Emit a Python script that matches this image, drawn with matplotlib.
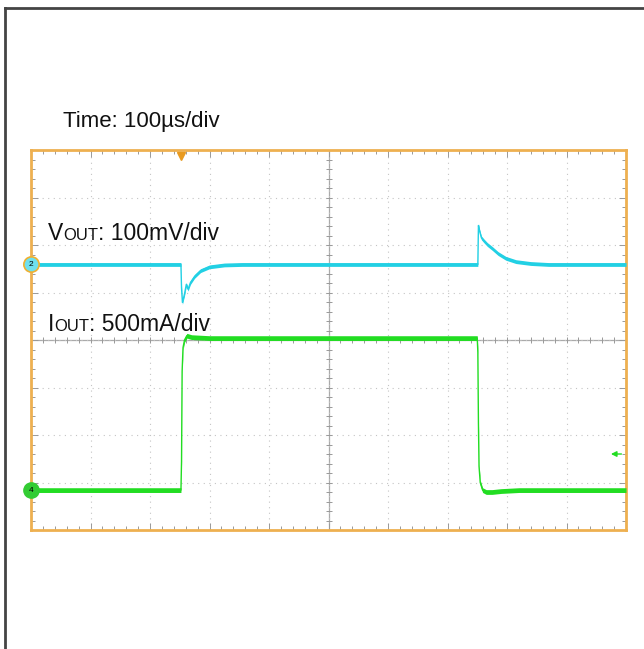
import matplotlib
matplotlib.use("Agg")
import matplotlib.pyplot as plt
import numpy as np
from matplotlib.lines import Line2D

plt.rcParams["font.family"] = ["Liberation Sans", "DejaVu Sans"]

# scope settings
TIME_US_PER_DIV = 100
VOUT_MV_PER_DIV = 100
IOUT_MA_PER_DIV = 500
VOUT_OFFSET_DIV = 1.59
IOUT_OFFSET_DIV = -3.16
TRIGGER_TIME_US = 252
TRIGGER_LEVEL_MA = 380

# VOUT trace (deviation from nominal, mV)
VOUT_T_US = [0, 252, 253, 254.5, 258, 261, 264, 268, 275, 285, 300, 325, 355,
             751, 752, 754, 757, 761, 767, 775, 785, 798, 815, 840, 870, 1000]
VOUT_MV = [0, 0, -50, -80, -62, -42, -52, -38, -25, -13, -5, -1, 0,
           0, 82, 70, 56, 50, 42, 34, 23, 13, 6, 2, 0, 0]
VOUT_NOISE_MV = 4

# IOUT trace (mA)
IOUT_T_US = [0, 252, 253, 254, 255.5, 258, 262, 270, 300,
             750, 751, 752, 753, 755, 759, 765, 775, 790, 820, 1000]
IOUT_MA = [0, 0, 300, 1250, 1500, 1580, 1625, 1610, 1600,
           1600, 1450, 700, 250, 80, 0, -20, -20, -10, 0, 0]
IOUT_NOISE_MA = 25

CYAN = "#22d0e4"
GREEN = "#22dd22"
ORANGE = "#eeb050"

W, H = 644, 649
fig = plt.figure(figsize=(W / 100, H / 100), dpi=100)
ax = fig.add_axes([31 / W, 1 - 530 / H, 595 / W, 380 / H])
ax.set_xlim(0, 10)
ax.set_ylim(-4, 4)

# graticule
ax.set_xticks(np.arange(0, 11))
ax.set_yticks(np.arange(-4, 5))
ax.set_xticks(np.arange(0, 10.01, 0.2), minor=True)
ax.set_yticks(np.arange(-4, 4.01, 0.2), minor=True)
ax.tick_params(which="both", direction="in", top=True, right=True,
               labelbottom=False, labelleft=False, color="#999999", width=0.7)
ax.tick_params(which="major", length=5)
ax.tick_params(which="minor", length=3)
ax.grid(which="major", color="#c4c4c4", linestyle=(0, (1, 4)), linewidth=0.8)
ax.axhline(0, color="#aaaaaa", linewidth=0.9, zorder=1)
ax.axvline(5, color="#aaaaaa", linewidth=0.9, zorder=1)
minor_x = np.arange(0, 10.01, 0.2)
minor_y = np.arange(-4, 4.01, 0.2)
ax.plot(minor_x, np.zeros_like(minor_x), "|", color="#999999", ms=4, mew=0.7)
ax.plot(np.full_like(minor_y, 5), minor_y, "_", color="#999999", ms=4, mew=0.7)
for side in ax.spines.values():
    side.set_color(ORANGE)
    side.set_linewidth(2)

# traces
vt = np.array(VOUT_T_US) / TIME_US_PER_DIV
vy = VOUT_OFFSET_DIV + np.array(VOUT_MV) / VOUT_MV_PER_DIV
vn = VOUT_NOISE_MV / VOUT_MV_PER_DIV
ax.fill_between(vt, vy - vn, vy + vn, color=CYAN, linewidth=0, zorder=3)
ax.plot(vt, vy, color=CYAN, linewidth=1, zorder=3)

it = np.array(IOUT_T_US) / TIME_US_PER_DIV
iy = IOUT_OFFSET_DIV + np.array(IOUT_MA) / IOUT_MA_PER_DIV
inoise = IOUT_NOISE_MA / IOUT_MA_PER_DIV
ax.fill_between(it, iy - inoise, iy + inoise, color=GREEN, linewidth=0, zorder=3)
ax.plot(it, iy, color=GREEN, linewidth=1, zorder=3)

# channel markers
ax.plot(0, VOUT_OFFSET_DIV, "o", ms=11, mfc="#6fe0ee", mec="#f0b030", mew=1.2,
        clip_on=False, zorder=5)
ax.text(0, VOUT_OFFSET_DIV, "2", fontsize=6, ha="center", va="center", zorder=6)
ax.plot(0, IOUT_OFFSET_DIV, "o", ms=11, mfc="#33cc33", mec="#33cc33",
        clip_on=False, zorder=5)
ax.text(0, IOUT_OFFSET_DIV, "4", fontsize=6, ha="center", va="center", zorder=6)

# trigger position and level
ax.plot(TRIGGER_TIME_US / TIME_US_PER_DIV, 3.88, "v", color="#e89a20", ms=6,
        clip_on=False, zorder=5)
lvl = IOUT_OFFSET_DIV + TRIGGER_LEVEL_MA / IOUT_MA_PER_DIV
ax.annotate("", xy=(9.7, lvl), xytext=(9.97, lvl),
            arrowprops=dict(arrowstyle="-|>", color=GREEN, lw=1,
                            mutation_scale=8))

# outer frame (top and left)
fig.add_artist(Line2D([5 / W, 5 / W], [0, 1 - 8 / H], color="#444444", lw=2))
fig.add_artist(Line2D([5 / W, 1], [1 - 8 / H, 1 - 8 / H], color="#444444", lw=2))


def text_runs(x_px, base_px, runs):
    fig.canvas.draw()
    renderer = fig.canvas.get_renderer()
    x = x_px
    for s, size in runs:
        t = fig.text(x / W, 1 - base_px / H, s, fontsize=size, va="baseline",
                     ha="left", color="#111111")
        x += t.get_window_extent(renderer).width


text_runs(63, 127, [("Time: 100µs/div", 16)])
text_runs(48, 240, [("V", 16.5), ("OUT", 12), (": 100mV/div", 16.5)])
text_runs(48, 331, [("I", 16.5), ("OUT", 12), (": 500mA/div", 16.5)])

fig.savefig("out.png", dpi=100)
